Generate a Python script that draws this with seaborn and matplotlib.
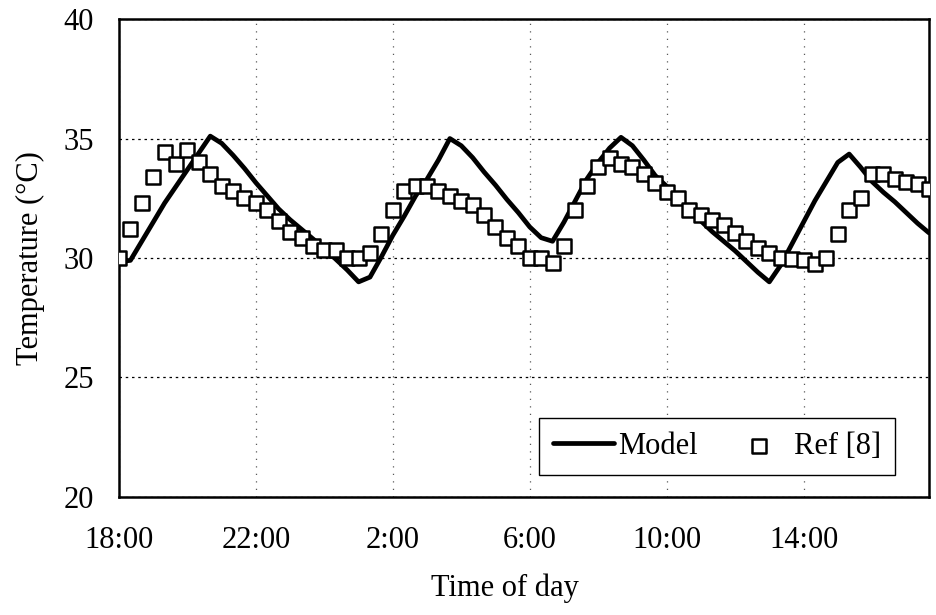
import numpy as np
import matplotlib
matplotlib.use("Agg")
import matplotlib.pyplot as plt
import seaborn as sns

# readings every 20 min, starting at 18:00
step_min = 20

model_temp = [
    29.85, 29.9, 30.7, 31.5, 32.3, 33.0, 33.7, 34.4, 35.1, 34.8,
    34.3, 33.75, 33.15, 32.6, 32.05, 31.6, 31.2, 30.8, 30.4, 29.95,
    29.5, 29.0, 29.2, 30.05, 30.95, 31.75, 32.6, 33.3, 34.1, 35.0,
    34.7, 34.2, 33.6, 33.05, 32.45, 31.9, 31.3, 30.85, 30.7, 31.5,
    32.4, 33.3, 34.0, 34.6, 35.05, 34.7, 34.1, 33.45, 33.0, 32.5,
    32.0, 31.55, 31.1, 30.7, 30.3, 29.85, 29.4, 29.0, 29.7, 30.6,
    31.5, 32.4, 33.2, 34.0, 34.35, 33.8, 33.2, 32.75, 32.35, 31.9,
    31.45, 31.05,
]

ref_temp = [
    30.0, 31.2, 32.3, 33.4, 34.45, 33.95, 34.5, 34.0, 33.5, 33.0,
    32.8, 32.5, 32.3, 32.0, 31.55, 31.1, 30.85, 30.5, 30.35, 30.35,
    30.0, 30.0, 30.2, 31.0, 32.0, 32.8, 33.0, 33.0, 32.8, 32.6,
    32.4, 32.2, 31.8, 31.3, 30.85, 30.5, 30.0, 30.0, 29.8, 30.5,
    32.0, 33.0, 33.8, 34.2, 33.95, 33.8, 33.5, 33.15, 32.75, 32.5,
    32.0, 31.8, 31.6, 31.4, 31.05, 30.7, 30.4, 30.2, 30.0, 29.95,
    29.9, 29.75, 30.0, 31.0, 32.0, 32.5, 33.5, 33.5, 33.3, 33.2,
    33.1, 32.9,
]

tick_hours = [0, 4, 8, 12, 16, 20]
tick_labels = ["18:00", "22:00", "2:00", "6:00", "10:00", "14:00"]
y_ticks = [20, 25, 30, 35, 40]

time_h = np.arange(len(ref_temp)) * step_min / 60.0

sns.set_theme(style="white")
plt.rcParams["font.family"] = ["Liberation Serif", "DejaVu Serif"]
plt.rcParams["text.color"] = "black"
plt.rcParams["axes.labelcolor"] = "black"

fig = plt.figure(figsize=(9.37, 6.15), dpi=100)
ax = fig.add_axes([0.127, 0.192, 0.8645, 0.777])

sns.lineplot(x=time_h, y=model_temp, ax=ax, color="black", linewidth=3.4,
             label="Model", zorder=2)
sns.scatterplot(x=time_h, y=ref_temp, ax=ax, marker="s", s=95, color="white",
                edgecolor="black", linewidth=1.8, label="Ref [8]", zorder=3)

ax.set_xlim(0, time_h[-1])
ax.set_ylim(20, 40)
ax.set_xticks(tick_hours)
ax.set_xticklabels(tick_labels)
ax.set_yticks(y_ticks)

ax.yaxis.grid(True, color="black", linestyle=(0, (2, 3)), linewidth=0.9)
ax.xaxis.grid(True, color="0.35", linestyle=(0, (1, 5)), linewidth=0.9)
ax.set_axisbelow(True)

for sp in ax.spines.values():
    sp.set_color("black")
    sp.set_linewidth(1.8)

ax.tick_params(axis="x", length=0, pad=21, labelsize=22, colors="black")
ax.tick_params(axis="y", length=0, pad=18, labelsize=22, colors="black")

ax.set_xlabel("Time of day", fontsize=22, labelpad=13, x=0.477)
ax.set_ylabel("Temperature (°C)", fontsize=22, labelpad=13)

leg = ax.legend(loc="lower right", bbox_to_anchor=(0.958, 0.046), ncol=2,
                frameon=True, fancybox=False, framealpha=1, edgecolor="black",
                borderpad=0.45, handlelength=2.0, handletextpad=0.15,
                columnspacing=1.0, fontsize=22, borderaxespad=0)
leg.get_frame().set_linewidth(1.0)
for t in leg.get_texts():
    t.set_color("black")

fig.savefig("out.png", dpi=100)
